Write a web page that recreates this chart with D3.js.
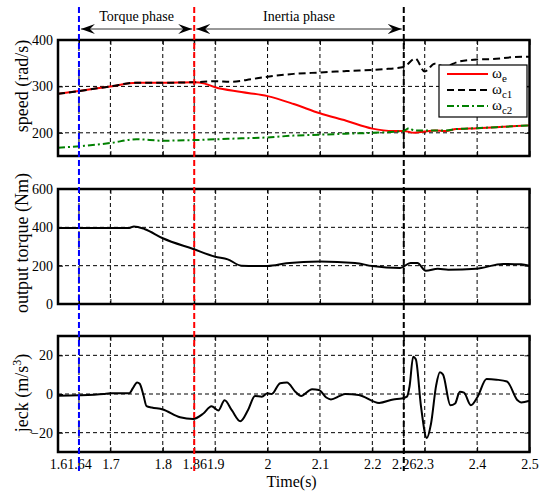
<!DOCTYPE html>
<html>
<head>
<meta charset="utf-8">
<script src="https://cdn.jsdelivr.net/npm/d3@7"></script>
<style>
  body { margin: 0; background: #fff; }
  svg { display: block; }
  text { font-family: "Liberation Serif", "Times New Roman", serif; fill: #000; }
</style>
</head>
<body>
<svg id="chart" width="541" height="492"></svg>
<script>
// ---- data ----
const xTicks = [1.6, 1.64, 1.7, 1.8, 1.86, 1.9, 2.0, 2.1, 2.2, 2.26, 2.3, 2.4, 2.5];
const xTickLabels = ["1.6", "1.64", "1.7", "1.8", "1.86", "1.9", "2", "2.1", "2.2", "2.26", "2.3", "2.4", "2.5"];
const phaseTimes = [1.64, 1.86, 2.26];
const phaseColors = ["#0000ff", "#ff0000", "#000000"];
const phaseNames = ["Torque phase", "Inertia phase"];

const speedTicks = [200, 300, 400];
const torqueTicks = [0, 200, 400, 600];
const jerkTicks = [-20, 0, 20];

// engine speed ωe
const omegaE = [
  [1.6, 284], [1.64, 290], [1.7, 300], [1.75, 308], [1.8, 308], [1.86, 309],
  [1.88, 306], [1.9, 298], [1.95, 288], [2.0, 279], [2.05, 262], [2.1, 242],
  [2.15, 226], [2.2, 209], [2.24, 204], [2.26, 204], [2.28, 200], [2.3, 203],
  [2.32, 205], [2.34, 204], [2.36, 208], [2.4, 210], [2.45, 213], [2.5, 216]
];
// clutch 1 speed ωc1
const omegaC1 = [
  [1.6, 284], [1.64, 290], [1.7, 300], [1.75, 308], [1.8, 308], [1.86, 309],
  [1.9, 311], [1.93, 310], [1.96, 314], [2.0, 321], [2.05, 327], [2.1, 330],
  [2.15, 333], [2.22, 337], [2.26, 342], [2.282, 360], [2.3, 332], [2.319, 349],
  [2.338, 343], [2.364, 353], [2.4, 358], [2.43, 359], [2.47, 363], [2.5, 364]
];
// clutch 2 speed ωc2
const omegaC2 = [
  [1.6, 168], [1.65, 172], [1.7, 178], [1.75, 186], [1.8, 183], [1.85, 184],
  [1.9, 186], [1.95, 188], [2.0, 190], [2.05, 194], [2.1, 196], [2.15, 198],
  [2.2, 200], [2.26, 204], [2.27, 210], [2.28, 205], [2.3, 205], [2.34, 205],
  [2.36, 208], [2.4, 210], [2.45, 213], [2.5, 216]
];
// output torque
const torque = [
  [1.6, 396], [1.7, 396], [1.736, 396], [1.745, 405], [1.766, 390], [1.8, 343],
  [1.858, 287], [1.9, 247], [1.924, 233], [1.95, 200], [2.0, 198], [2.036, 212],
  [2.1, 222], [2.167, 214], [2.2, 198], [2.253, 188], [2.273, 214], [2.286, 214],
  [2.302, 173], [2.325, 184], [2.345, 179], [2.398, 184], [2.45, 209], [2.484, 207],
  [2.5, 200]
];
// jerk
const jerk = [
  [1.6, -0.9], [1.64, -0.7], [1.687, 0], [1.7, 0.4], [1.736, 0.4], [1.743, 3],
  [1.751, 6], [1.756, 5.3], [1.763, -0.5], [1.769, -6.3], [1.779, -7], [1.8, -8],
  [1.833, -12], [1.858, -12.9], [1.877, -10.2], [1.893, -6.3], [1.906, -8.5],
  [1.918, -3.2], [1.932, -8.5], [1.948, -14.1], [1.963, -8.1], [1.976, -1],
  [1.989, -1.4], [2.0, 0.4], [2.008, 0], [2.024, 5.6], [2.037, 6], [2.053, 1.2],
  [2.064, -1], [2.085, 2.5], [2.098, 2.1], [2.112, -1.8], [2.121, -2.8], [2.138, -1],
  [2.148, 0], [2.174, -0.5], [2.213, -4.6], [2.24, -2.8], [2.256, -2.3], [2.266, -1.4],
  [2.271, 3.9], [2.278, 19.3], [2.283, 18], [2.293, -6.7], [2.304, -22.8], [2.312, -15.4],
  [2.322, 4.7], [2.329, 11.2], [2.335, 10], [2.349, -5.8], [2.358, -4.9],
  [2.367, 1.2], [2.375, 0.7], [2.388, -5.8], [2.401, -1.4], [2.418, 7.7],
  [2.437, 7.4], [2.457, 6.5], [2.477, -3.2], [2.484, -4.4], [2.5, -3.5]
];

// ---- layout ----
const svg = d3.select("#chart");
const left = 58, right = 529.5;
const x = d3.scaleLinear().domain([1.6, 2.5]).range([left, right]);

const panels = [
  { top: 40, bottom: 156, domain: [150, 400], ticks: speedTicks, label: "speed (rad/s)", labelY: 86 },
  { top: 189, bottom: 304, domain: [0, 600], ticks: torqueTicks, label: "output torque (Nm)", labelY: 243 },
  { top: 336, bottom: 452, domain: [-30, 30], ticks: jerkTicks, label: "jeck (m/s", labelY: 393 }
];
panels.forEach(p => { p.y = d3.scaleLinear().domain(p.domain).range([p.bottom, p.top]); });

const defs = svg.append("defs");
panels.forEach((p, i) => {
  defs.append("clipPath").attr("id", "clip" + i)
    .append("rect").attr("x", left).attr("y", p.top)
    .attr("width", right - left).attr("height", p.bottom - p.top);
});
defs.append("marker").attr("id", "arrowHead")
  .attr("viewBox", "0 0 14 10").attr("refX", 14).attr("refY", 5)
  .attr("markerWidth", 14).attr("markerHeight", 10)
  .attr("markerUnits", "userSpaceOnUse").attr("orient", "auto-start-reverse")
  .append("path").attr("d", "M0,0 L14,5 L0,10 L5,5 Z").attr("fill", "#000");

const lineGen = y => d3.line().x(d => x(d[0])).y(d => y(d[1])).curve(d3.curveMonotoneX);

panels.forEach((p, i) => {
  const g = svg.append("g");
  // grid
  g.selectAll(".vg").data(xTicks.filter(t => t > 1.6 && t < 2.5)).join("line")
    .attr("x1", d => x(d)).attr("x2", d => x(d))
    .attr("y1", p.top).attr("y2", p.bottom)
    .attr("stroke", "#000").attr("stroke-width", 1).attr("stroke-dasharray", "4,3");
  g.selectAll(".hg").data(p.ticks.filter(t => t > p.domain[0] && t < p.domain[1])).join("line")
    .attr("x1", left).attr("x2", right)
    .attr("y1", d => p.y(d)).attr("y2", d => p.y(d))
    .attr("stroke", "#000").attr("stroke-width", 1).attr("stroke-dasharray", "4,3");

  // axes with inward ticks
  const yAxisL = d3.axisLeft(p.y).tickValues(p.ticks).tickSizeInner(-5).tickSizeOuter(0).tickPadding(5);
  const yAxisR = d3.axisRight(p.y).tickValues(p.ticks).tickSizeInner(-5).tickSizeOuter(0).tickFormat("");
  const xAxisB = d3.axisBottom(x).tickValues(xTicks).tickSizeInner(-5).tickSizeOuter(0)
    .tickPadding(7).tickFormat((d, k) => i === 2 ? xTickLabels[k] : "");
  const xAxisT = d3.axisTop(x).tickValues(xTicks).tickSizeInner(-5).tickSizeOuter(0).tickFormat("");

  const styleAxis = sel => {
    sel.attr("font-family", null);
    sel.select(".domain").remove();
    sel.selectAll(".tick line").attr("stroke", "#000").attr("stroke-width", 1);
    sel.selectAll(".tick text").attr("font-family", "Liberation Serif, serif")
      .attr("font-size", 14).attr("fill", "#000");
  };
  svg.append("g").attr("transform", `translate(${left},0)`).call(yAxisL).call(styleAxis);
  svg.append("g").attr("transform", `translate(${right},0)`).call(yAxisR).call(styleAxis);
  svg.append("g").attr("transform", `translate(0,${p.bottom})`).call(xAxisB).call(styleAxis);
  svg.append("g").attr("transform", `translate(0,${p.top})`).call(xAxisT).call(styleAxis);

  // y label
  const lbl = svg.append("text")
    .attr("transform", `translate(28,${p.labelY}) rotate(-90)`)
    .attr("text-anchor", "middle").attr("font-size", 18).text(p.label);
  if (i === 2) {
    lbl.append("tspan").attr("dy", -7).attr("font-size", 12).text("3");
    lbl.append("tspan").attr("dy", 7).text(")");
  }
});

// speed curves
const p0 = panels[0];
const speedG = svg.append("g").attr("clip-path", "url(#clip0)");
speedG.append("path").datum(omegaE).attr("d", lineGen(p0.y))
  .attr("fill", "none").attr("stroke", "#ff0000").attr("stroke-width", 2);
speedG.append("path").datum(omegaC1).attr("d", lineGen(p0.y))
  .attr("fill", "none").attr("stroke", "#000").attr("stroke-width", 2).attr("stroke-dasharray", "7,4");
speedG.append("path").datum(omegaC2).attr("d", lineGen(p0.y))
  .attr("fill", "none").attr("stroke", "#008000").attr("stroke-width", 2).attr("stroke-dasharray", "7,3,2,3");

// torque curve
svg.append("g").attr("clip-path", "url(#clip1)")
  .append("path").datum(torque).attr("d", lineGen(panels[1].y))
  .attr("fill", "none").attr("stroke", "#000").attr("stroke-width", 2);

// jerk curve
svg.append("g").attr("clip-path", "url(#clip2)")
  .append("path").datum(jerk).attr("d", lineGen(panels[2].y))
  .attr("fill", "none").attr("stroke", "#000").attr("stroke-width", 2);

// legend
const legendItems = [
  { sub: "e", color: "#ff0000", dash: null },
  { sub: "c1", color: "#000", dash: "7,4" },
  { sub: "c2", color: "#008000", dash: "7,3,2,3" }
];
const lgX = 439, lgY = p0.top + 25, lgW = 88, lgH = 52;
const lg = svg.append("g");
lg.append("rect").attr("x", lgX).attr("y", lgY).attr("width", lgW).attr("height", lgH)
  .attr("fill", "#fff").attr("stroke", "#000").attr("stroke-width", 1.2);
legendItems.forEach((it, k) => {
  const yy = lgY + 9 + k * 16;
  lg.append("line").attr("x1", lgX + 8).attr("x2", lgX + 49).attr("y1", yy).attr("y2", yy)
    .attr("stroke", it.color).attr("stroke-width", 2)
    .attr("stroke-dasharray", it.dash);
  const t = lg.append("text").attr("x", lgX + 53).attr("y", yy + 4).attr("font-size", 15);
  t.append("tspan").text("ω");
  t.append("tspan").attr("font-size", 11).attr("dy", 4).text(it.sub);
});

// frames
panels.forEach(p => {
  svg.append("rect").attr("x", left).attr("y", p.top)
    .attr("width", right - left).attr("height", p.bottom - p.top)
    .attr("fill", "none").attr("stroke", "#000").attr("stroke-width", 2.5);
});

// phase markers
svg.selectAll(".phase").data(phaseTimes).join("line")
  .attr("x1", d => x(d)).attr("x2", d => x(d))
  .attr("y1", 7).attr("y2", 471)
  .attr("stroke", (d, k) => phaseColors[k]).attr("stroke-width", 2)
  .attr("stroke-dasharray", "6,3");

// phase arrows and names
const arrowY = 29;
phaseNames.forEach((name, k) => {
  const a = x(phaseTimes[k]) + 2, b = x(phaseTimes[k + 1]) - 2;
  svg.append("line").attr("x1", a).attr("x2", b).attr("y1", arrowY).attr("y2", arrowY)
    .attr("stroke", "#333").attr("stroke-width", 1)
    .attr("marker-start", "url(#arrowHead)").attr("marker-end", "url(#arrowHead)");
  svg.append("text").attr("x", (a + b) / 2).attr("y", 21)
    .attr("text-anchor", "middle").attr("font-size", 14).text(name);
});

// x axis title
svg.append("text").attr("x", x(2.046)).attr("y", 487)
  .attr("text-anchor", "middle").attr("font-size", 16).text("Time(s)");
</script>
</body>
</html>
